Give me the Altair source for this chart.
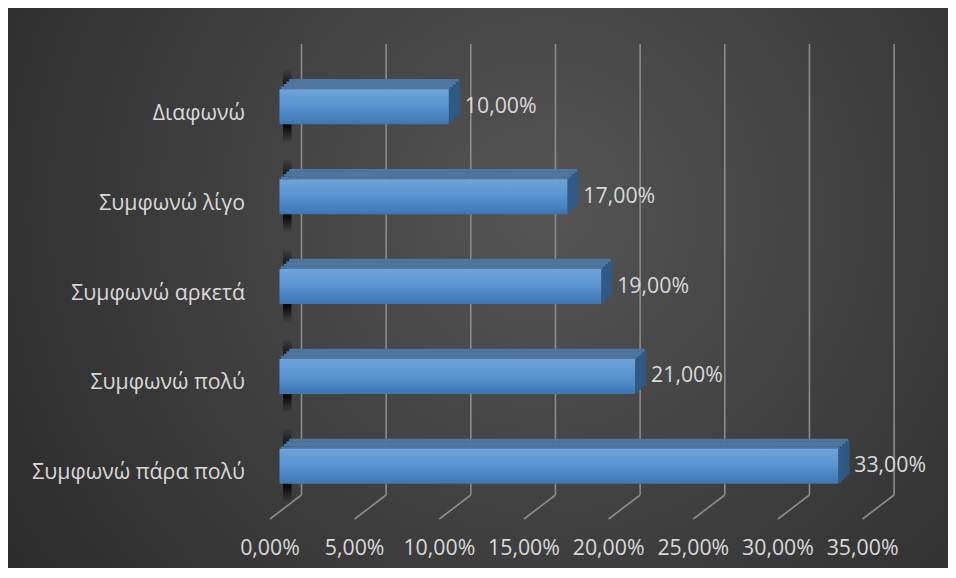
import altair as alt
import pandas as pd

# ---- data ----
categories = ["Διαφωνώ", "Συμφωνώ λίγο", "Συμφωνώ αρκετά", "Συμφωνώ πολύ", "Συμφωνώ πάρα πολύ"]
values = [10, 17, 19, 21, 33]
value_labels = ["10,00%", "17,00%", "19,00%", "21,00%", "33,00%"]
tick_values = [0, 5, 10, 15, 20, 25, 30, 35]
tick_labels = ["0,00%", "5,00%", "10,00%", "15,00%", "20,00%", "25,00%", "30,00%", "35,00%"]

W, H = 940, 560
FONT = "Open Sans"
FS = 21.3
TXT = "#d9d9d9"
GRID = "#8c8c8c"

df = pd.DataFrame({"cat": categories, "v": values, "lbl": value_labels})
ticks = pd.DataFrame({"t": tick_values, "lbl": tick_labels})
one = pd.DataFrame({"a": [0]})

xs = alt.Scale(domain=[0, 35], range=[271.5, 864.1])
ys = alt.Scale(domain=categories, range=[53.8, 503.3], paddingInner=0, paddingOuter=0)
X = alt.X("v:Q", scale=xs, axis=None)
Y = alt.Y("cat:N", scale=ys, axis=None, sort=categories)
XT = alt.X("t:Q", scale=xs, axis=None)

bg = alt.Chart(one).mark_rect(
    fill=alt.RadialGradient(
        gradient="radial",
        stops=[alt.GradientStop(color="#555555", offset=0),
               alt.GradientStop(color="#3d3d3d", offset=0.5),
               alt.GradientStop(color="#262626", offset=1)],
        x1=0.57, y1=0.42, x2=0.57, y2=0.42, r1=0, r2=0.78)
).encode(x=alt.value(0), x2=alt.value(W), y=alt.value(0), y2=alt.value(H))

grid = alt.Chart(ticks).mark_rule(color=GRID, strokeWidth=1.6, xOffset=22).encode(
    x=XT, y=alt.value(36), y2=alt.value(487))

floor = alt.Chart(ticks).mark_rule(color=GRID, strokeWidth=1.6, xOffset=22, x2Offset=-9.5).encode(
    x=XT, x2=alt.X2("t:Q"), y=alt.value(487), y2=alt.value(511))

shadow = alt.Chart(df).transform_calculate(z="0").mark_rect(
    fill=alt.LinearGradient(
        gradient="linear", x1=0, y1=0, x2=0, y2=1,
        stops=[alt.GradientStop(color="rgba(0,0,0,0)", offset=0.08),
               alt.GradientStop(color="rgba(0,0,0,0.85)", offset=0.3),
               alt.GradientStop(color="rgba(0,0,0,0.85)", offset=0.72),
               alt.GradientStop(color="rgba(0,0,0,0)", offset=0.9)]),
    xOffset=3.5, x2Offset=12
).encode(x=alt.X("z:Q", scale=xs, axis=None), x2=alt.X2("z:Q"), y=Y)

n = 4
sides = []
tops = []
for k in range(n):
    sides.append(alt.Chart(df).mark_bar(
        color="#2f5a88", size=35, xOffset=11 * k / n, x2Offset=11 * (k + 1) / n + 0.3,
        yOffset=-10 * (k + 0.5) / n
    ).encode(x=X, x2=alt.X2("v:Q"), y=Y))
    dx = 11 * (k + 0.5) / n
    tops.append(alt.Chart(df).mark_bar(
        color="#4e76a1", size=10 / n + 0.4, xOffset=dx, x2Offset=dx,
        yOffset=-17.5 - 10 * (k + 0.5) / n
    ).encode(x=X, y=Y))

front = alt.Chart(df).mark_bar(
    size=35,
    fill=alt.LinearGradient(
        gradient="linear", x1=0, y1=0, x2=0, y2=1,
        stops=[alt.GradientStop(color="#6fa4d9", offset=0),
               alt.GradientStop(color="#5893cf", offset=0.5),
               alt.GradientStop(color="#3e76b3", offset=1)])
).encode(x=X, y=Y)

vlab = alt.Chart(df).mark_text(align="left", baseline="middle", dx=16, fontSize=FS,
                               color=TXT, font=FONT).encode(x=X, y=Y, text="lbl:N")
clab = alt.Chart(df).mark_text(align="right", baseline="middle", dy=7, fontSize=FS,
                               color=TXT, font=FONT).encode(x=alt.value(237), y=Y, text="cat:N")
tlab = alt.Chart(ticks).mark_text(align="center", baseline="middle", dx=-9.5, fontSize=FS,
                                  color=TXT, font=FONT).encode(x=XT, y=alt.value(541), text="lbl:N")

chart = alt.layer(bg, grid, floor, shadow, *sides, *tops, front, vlab, clab, tlab).properties(
    width=W, height=H, padding=0, autosize=alt.AutoSizeParams(type="none"),
    background="#262626"
).configure_view(stroke=None)

chart.save("out.html", embed_options={"renderer": "svg", "actions": False})
